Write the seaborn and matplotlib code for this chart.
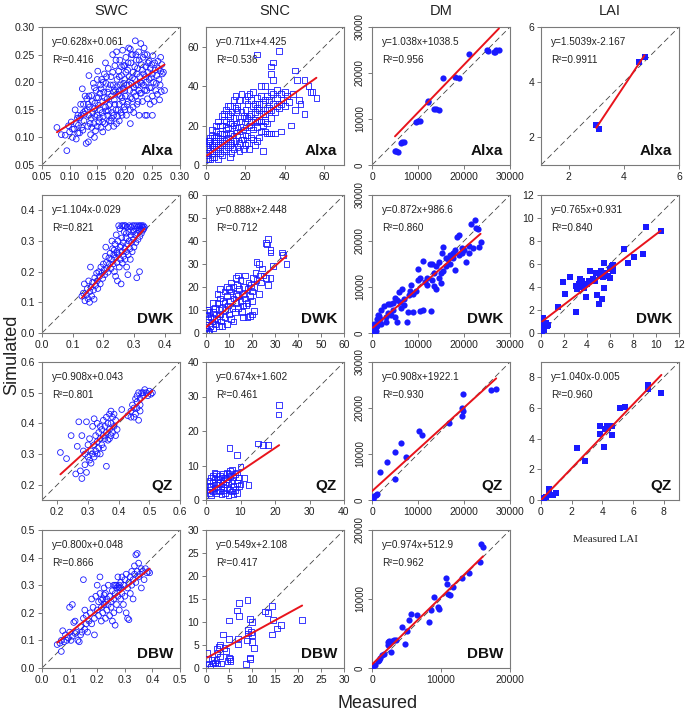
import numpy as np
import seaborn as sns
import matplotlib.pyplot as plt
from matplotlib.ticker import FormatStrFormatter

# ---- data: (measured, simulated) ----
swc_alxa = [(0.077,0.118),(0.085,0.105),(0.092,0.104),(0.095,0.076),(0.098,0.121),(0.100,0.110),(0.103,0.128),
            (0.105,0.100),(0.108,0.115),(0.110,0.150),(0.112,0.097),(0.114,0.135),(0.116,0.122),(0.118,0.108),
            (0.120,0.160),(0.121,0.140),(0.123,0.188),(0.124,0.113),(0.126,0.130),(0.128,0.148),(0.130,0.089),
            (0.131,0.170),(0.133,0.120),(0.134,0.092),(0.135,0.212),(0.136,0.155),(0.138,0.105),(0.139,0.135),
            (0.140,0.176),(0.142,0.145),(0.143,0.198),(0.144,0.125),(0.146,0.162),(0.147,0.112),(0.148,0.185),
            (0.150,0.140),(0.151,0.220),(0.152,0.172),(0.153,0.128),(0.155,0.150),(0.156,0.195),(0.157,0.118),
            (0.158,0.205),(0.160,0.165),(0.161,0.138),(0.162,0.182),(0.163,0.215),(0.164,0.125),(0.165,0.155),
            (0.166,0.198),(0.168,0.170),(0.169,0.140),(0.170,0.225),(0.171,0.188),(0.172,0.130),(0.173,0.160),
            (0.175,0.210),(0.176,0.175),(0.177,0.145),(0.178,0.250),(0.179,0.195),(0.180,0.120),(0.181,0.168),
            (0.182,0.230),(0.183,0.185),(0.184,0.150),(0.185,0.255),(0.186,0.205),(0.187,0.138),(0.188,0.178),
            (0.189,0.220),(0.190,0.160),(0.191,0.240),(0.192,0.195),(0.193,0.145),(0.194,0.212),(0.195,0.172),
            (0.196,0.258),(0.197,0.188),(0.198,0.230),(0.199,0.155),(0.200,0.205),(0.201,0.175),(0.202,0.245),
            (0.203,0.140),(0.204,0.195),(0.205,0.222),(0.206,0.165),(0.207,0.262),(0.208,0.210),(0.209,0.185),
            (0.210,0.150),(0.211,0.235),(0.212,0.198),(0.213,0.170),(0.214,0.250),(0.215,0.218),(0.216,0.145),
            (0.217,0.190),(0.218,0.205),(0.219,0.275),(0.220,0.175),(0.221,0.240),(0.222,0.160),(0.223,0.225),
            (0.224,0.195),(0.225,0.255),(0.226,0.140),(0.227,0.210),(0.228,0.180),(0.229,0.270),(0.230,0.232),
            (0.231,0.198),(0.232,0.165),(0.233,0.245),(0.234,0.215),(0.235,0.262),(0.236,0.185),(0.237,0.140),
            (0.238,0.228),(0.239,0.200),(0.240,0.250),(0.241,0.170),(0.242,0.218),(0.244,0.238),(0.245,0.190),
            (0.246,0.160),(0.248,0.208),(0.249,0.232),(0.250,0.175),(0.251,0.248),(0.252,0.200),(0.253,0.165),
            (0.255,0.222),(0.256,0.185),(0.258,0.212),(0.259,0.178),(0.260,0.238),(0.262,0.205),(0.263,0.168),
            (0.265,0.220),(0.266,0.183),(0.268,0.215),(0.270,0.218),(0.272,0.185),(0.265,0.245),(0.155,0.180),
            (0.145,0.100),(0.160,0.110),(0.175,0.130),(0.185,0.125),(0.135,0.140),(0.125,0.160),(0.115,0.108),
            (0.128,0.175),(0.140,0.118),(0.150,0.205),(0.165,0.235),(0.170,0.118),(0.190,0.130),(0.200,0.150),
            (0.210,0.125),(0.195,0.140),(0.240,0.140),(0.250,0.140),
            (0.105,0.115),(0.112,0.125),(0.118,0.135),(0.122,0.118),(0.127,0.142),(0.132,0.150),(0.134,0.160),
            (0.137,0.125),(0.141,0.165),(0.144,0.152),(0.146,0.138),(0.149,0.172),(0.152,0.158),(0.154,0.135),
            (0.157,0.188),(0.159,0.145),(0.161,0.200),(0.163,0.172),(0.166,0.148),(0.167,0.210),(0.169,0.182),
            (0.171,0.158),(0.174,0.195),(0.176,0.135),(0.178,0.218),(0.180,0.182),(0.182,0.160),(0.184,0.240),
            (0.186,0.192),(0.188,0.150),(0.190,0.210),(0.192,0.175),(0.194,0.228),(0.196,0.165),(0.198,0.198),
            (0.200,0.185),(0.202,0.218),(0.204,0.160),(0.206,0.235),(0.208,0.195),(0.210,0.172),(0.212,0.250),
            (0.214,0.208),(0.216,0.182),(0.218,0.228),(0.220,0.195),(0.222,0.215),(0.224,0.165),(0.226,0.240),
            (0.228,0.200),(0.230,0.180),(0.232,0.222),(0.234,0.195),(0.236,0.250),(0.238,0.210),(0.240,0.185),
            (0.242,0.235),(0.244,0.205),(0.246,0.225),(0.248,0.190),(0.250,0.215),(0.254,0.235),(0.257,0.198),
            (0.261,0.225),(0.264,0.195),(0.267,0.232),(0.145,0.190),(0.135,0.175),(0.125,0.145),(0.115,0.140),
            (0.150,0.120),(0.160,0.128),(0.170,0.148),(0.180,0.140),(0.190,0.185),(0.200,0.230),(0.210,0.260),
            (0.220,0.250),(0.215,0.155),(0.225,0.185)]

snc_alxa = [(0.5,5),(1,8),(1.5,12),(2,3),(2,10),(3,6),(3,15),(4,9),(4,4),(5,12),(5,17),(6,7),(6,14),(7,10),(7,20),
            (8,5),(8,16),(9,12),(9,23),(10,8),(10,18),(11,14),(11,26),(12,10),(12,21),(13,6),(13,16),(14,24),(14,12),
            (15,19),(15,29),(16,9),(16,15),(17,22),(17,33),(18,13),(18,27),(19,18),(19,8),(20,24),(20,15),(21,31),
            (21,11),(22,20),(22,36),(23,26),(23,14),(24,18),(24,30),(25,23),(25,10),(26,34),(26,19),(27,28),(27,14),
            (28,22),(28,40),(29,31),(29,7),(30,26),(30,17),(31,35),(31,21),(32,29),(32,16),(33,37),(33,24),(34,31),
            (35,27),(35,16),(36,34),(36,38),(37,29),(38,36),(38,17),(39,33),(40,30),(40,37),(41,35),(42,32),(43,20),
            (44,36),(45,28),(45,48),(46,43),(47,33),(48,31),(50,26),(50,43),(52,40),(53,37),(54,37),(56,34),(33,16),
            (26,56),(37,58),(34,52),(33,50),(33,46),(34,43),(30,40),(10,28),(12,30),(8,25),(5,20),(15,35),(3,10),
            (1,3),(6,3),(18,36),(20,33),(22,8),(24,37),(28,35),(12,4),(16,28),(20,10),(25,31),(30,33),(14,20),(9,16),
            (7,12),(11,19),(13,27),(17,17),(19,25),(21,24),(23,19),(27,23),(29,20),(31,28),(26,12),(4,14),(2,7),
            (1,6),(2,12),(3,4),(4,11),(5,8),(5,15),(6,10),(7,6),(7,16),(8,11),(8,20),(9,7),(10,13),(10,22),(11,9),
            (12,16),(12,25),(13,11),(13,21),(14,15),(14,8),(15,12),(15,24),(16,19),(16,30),(17,11),(18,22),(19,13),
            (20,19),(20,28),(21,15),(22,25),(23,22),(24,13),(25,27),(26,22),(27,31),(28,17),(29,26),(30,22),(31,16),
            (32,33),(33,28),(34,36),(36,30),(38,31),(3,18),(6,22),(9,26),(11,30),(14,33),(2,14),(0.5,9),(17,7),
            (21,35),(23,33),(26,29)]

dm_alxa = [(5000,3100),(5300,3000),(5600,2800),(6300,4800),(6600,5000),(6900,4900),(9500,9400),(10000,9500),
           (10500,9600),(12100,13600),(12200,14000),(13500,12200),(14000,12100),(14500,12000),(15400,18900),
           (18000,19200),(19000,18900),(21000,24100),(25000,25000),(25200,24800),(26500,24600),(27000,24900),
           (27600,25000),(26800,24500)]

lai_alxa = [(3.0,2.45),(3.1,2.3),(4.55,4.75),(4.75,4.9)]

swc_dwk = [(0.130,0.120),(0.135,0.130),(0.138,0.160),(0.140,0.105),(0.145,0.125),(0.148,0.145),(0.150,0.112),
           (0.152,0.170),(0.155,0.100),(0.156,0.135),(0.158,0.215),(0.160,0.150),(0.162,0.120),(0.165,0.165),
           (0.168,0.140),(0.170,0.110),(0.172,0.180),(0.175,0.155),(0.178,0.195),(0.180,0.170),(0.182,0.145),
           (0.185,0.200),(0.188,0.185),(0.190,0.160),(0.192,0.215),(0.195,0.195),(0.198,0.178),(0.200,0.225),
           (0.202,0.205),(0.205,0.190),(0.207,0.250),(0.208,0.280),(0.210,0.230),(0.212,0.210),(0.215,0.198),
           (0.218,0.245),(0.220,0.225),(0.222,0.260),(0.225,0.210),(0.227,0.240),(0.230,0.275),(0.232,0.225),
           (0.234,0.255),(0.236,0.200),(0.238,0.290),(0.240,0.245),(0.240,0.185),(0.242,0.320),(0.244,0.265),
           (0.245,0.230),(0.246,0.170),(0.248,0.300),(0.250,0.255),(0.252,0.215),(0.254,0.340),(0.255,0.280),
           (0.256,0.240),(0.258,0.160),(0.260,0.310),(0.261,0.265),(0.262,0.228),(0.264,0.350),(0.265,0.295),
           (0.266,0.250),(0.268,0.330),(0.270,0.275),(0.271,0.240),(0.272,0.350),(0.274,0.310),(0.275,0.265),
           (0.276,0.215),(0.278,0.345),(0.279,0.290),(0.280,0.190),(0.281,0.255),(0.283,0.330),(0.284,0.300),
           (0.285,0.350),(0.287,0.275),(0.288,0.240),(0.290,0.320),(0.291,0.345),(0.292,0.295),(0.294,0.265),
           (0.295,0.350),(0.297,0.330),(0.298,0.305),(0.300,0.280),(0.301,0.350),(0.303,0.320),(0.305,0.340),
           (0.306,0.295),(0.308,0.350),(0.309,0.180),(0.310,0.325),(0.312,0.345),(0.313,0.305),(0.315,0.350),
           (0.317,0.335),(0.318,0.200),(0.319,0.315),(0.320,0.350),(0.322,0.340),(0.324,0.325),(0.325,0.350),
           (0.327,0.345),(0.329,0.335),(0.330,0.350),(0.332,0.340),(0.334,0.345),(0.260,0.350),(0.270,0.350),
           (0.250,0.350),(0.228,0.300),(0.235,0.270),(0.258,0.285),(0.245,0.260),(0.275,0.325)]

snc_dwk = [(0,0),(0,2),(0.3,5),(0.5,8),(0.5,10),(0.2,3.5),(1,1),(1,6),(1.5,0.5),(1.5,9),(2,3),(2,7),(2.5,5),(3,2),
           (3,9),(3.5,6),(4,4),(4,11),(4.5,8),(5,6),(5,13),(5.5,3),(5.5,10),(6,8),(6,15),(6.5,5),(7,11),(7,3),
           (7.5,14),(8,7),(8,18),(8.5,10),(9,4),(9,16),(9.5,12),(10,8),(10,19),(10.5,14),(11,6),(11,18),(11.5,11),
           (12,15),(12,20),(12.5,9),(13,13),(13,17),(13.5,21),(14,11),(14,16),(14.5,19),(15,14),(15,23),(15.5,9),
           (16,17),(16,7),(16.5,20),(17,15),(17,25),(17.5,12),(18,19),(18,7),(18.5,22),(19,16),(19,7.5),(19.5,21),
           (20,18),(20,8),(20.5,24),(21,9.5),(21,20),(21.5,26),(22,31),(22,23),(23,30),(23,17),(23.5,25),(24,22),
           (24.5,28),(25,25),(26,24),(26,39),(26.5,38.5),(27,41),(27,21),(28,36),(28,35),(28,24),(29,29),(33,35),
           (33.5,34),(35,30),(1,10),(3,13),(5,17),(8,13),(11,22),(9,20),(13,24),(16,12),(14,25),(6,19),(18,13),
           (20,14),(12,5)]

dm_dwk = [(200,300),(300,800),(500,1200),(800,500),(400,2000),(1000,1500),(600,900),(1200,2200),(1500,3800),
          (1200,4000),(2000,5000),(2500,5900),(1800,3000),(3000,2500),(3500,4300),(3000,3500),(4000,6300),
          (4500,6500),(4200,4000),(5000,7700),(5500,7200),(5800,9000),(6000,6800),(5500,2400),(5000,3500),
          (6500,9500),(7000,6000),(7500,2500),(7800,4500),(8000,8300),(8500,10500),(9000,4500),(9500,9200),
          (10000,11500),(10000,14000),(10500,4800),(11000,15700),(11000,4900),(12000,10500),(12000,12000),
          (12500,15000),(12800,4800),(13000,11500),(13000,15000),(13500,13000),(14000,9600),(14000,14500),
          (14500,15400),(15000,10800),(15200,17500),(15500,18700),(15500,13500),(16000,14600),(16500,16000),
          (17000,15000),(17000,17000),(17500,17300),(18000,13600),(18000,18000),(18500,20900),(19000,17000),
          (19000,21200),(19500,18500),(20000,18000),(20500,15500),(21000,17500),(21000,19000),(21500,23800),
          (22000,18500),(22300,24500),(22500,22800),(23000,22700),(23200,18700),(23600,19700),(14500,12000),
          (16000,16300),(11500,11000),(9000,8500),(7000,7500),(3500,6200),(2000,2000),(1000,3000),(4500,5000),
          (6200,5500),(8200,9200),(10500,12000),(13500,10300),(15000,13000),(17500,16200),(19500,17500)]

lai_dwk = [(0.1,0.2),(0.15,0.5),(0.2,1.0),(0.2,1.2),(0.3,0.8),(0.1,0.05),(0.3,0.3),(0.5,0.6),(0.4,0.9),(0.25,0.4),
           (0.6,0.7),(0.1,0.9),(0.15,1.3),(1.5,2.3),(1.9,4.4),(2.1,3.4),(2.5,4.9),(3.0,1.8),(3.0,4.1),(3.1,3.8),
           (3.3,4.3),(3.4,4.7),(3.5,4.0),(3.7,3.9),(3.9,3.1),(4.0,4.3),(4.3,5.4),(4.5,4.7),(4.7,4.5),(4.8,5.2),
           (4.9,3.3),(5.0,2.5),(5.1,5.0),(5.2,5.4),(5.3,3.0),(5.4,4.9),(5.5,6.1),(5.5,3.9),(5.6,5.2),(5.8,5.0),
           (6.0,4.8),(6.0,5.6),(6.2,5.8),(6.3,5.9),(6.3,5.4),(7.2,7.3),(7.6,6.1),(8.1,6.6),(8.9,6.9),(9.1,9.2),
           (10.4,8.9),(4.2,4.5),(3.6,4.5)]

swc_qz = [(0.21,0.305),(0.23,0.285),(0.245,0.36),(0.26,0.235),(0.265,0.325),(0.27,0.405),(0.275,0.245),(0.28,0.22),
          (0.28,0.36),(0.285,0.31),(0.29,0.30),(0.29,0.265),(0.295,0.405),(0.295,0.24),(0.30,0.29),(0.30,0.33),
          (0.305,0.28),(0.305,0.35),(0.31,0.31),(0.31,0.27),(0.315,0.39),(0.315,0.30),(0.32,0.415),(0.32,0.33),
          (0.32,0.29),(0.325,0.36),(0.325,0.31),(0.33,0.40),(0.33,0.34),(0.33,0.30),(0.335,0.37),(0.335,0.32),
          (0.34,0.39),(0.34,0.35),(0.34,0.30),(0.345,0.38),(0.345,0.33),(0.35,0.41),(0.35,0.36),(0.35,0.32),
          (0.355,0.39),(0.355,0.35),(0.36,0.42),(0.36,0.37),(0.36,0.26),(0.365,0.40),(0.365,0.345),(0.37,0.43),
          (0.37,0.38),(0.37,0.35),(0.375,0.44),(0.375,0.40),(0.375,0.36),(0.38,0.42),(0.38,0.37),(0.385,0.43),
          (0.385,0.39),(0.39,0.41),(0.39,0.36),(0.395,0.38),(0.41,0.445),(0.43,0.425),(0.44,0.44),(0.445,0.46),
          (0.45,0.42),(0.45,0.45),(0.455,0.48),(0.455,0.43),(0.46,0.49),(0.46,0.45),(0.465,0.41),(0.465,0.50),
          (0.47,0.48),(0.47,0.44),(0.475,0.50),(0.48,0.49),(0.485,0.51),(0.49,0.50),(0.495,0.49),(0.50,0.505),
          (0.505,0.495),(0.51,0.50),(0.44,0.42),(0.46,0.47),(0.47,0.46),(0.48,0.50)]

snc_qz = [(1,2),(1,4),(1,5.5),(1.2,3),(1.5,6.5),(1.5,1.5),(2,2.5),(2,5),(2,7),(2.5,3.5),(2.5,6),(3,2),(3,4.5),
          (3,7.5),(3.5,3),(3.5,6),(4,5),(4,2.5),(4,7),(4.5,4),(4.5,6.5),(5,3),(5,5.5),(5,7.5),(5.5,2),(5.5,4.5),
          (6,6),(6,3.5),(6,8),(6.5,1.5),(6.5,5),(7,7),(7,3),(7,8.5),(7.5,5.5),(7.5,2.5),(8,6.5),(8,4),(8.5,7.5),
          (8.5,3),(9,5),(9,2),(9,8),(9.5,6.5),(10,9.7),(10,4.5),(11,6.3),(12.3,4.4),(6.8,15),(9,13),(15,16.4),
          (16.5,16),(18,16),(21,24.8),(21.2,27.5),(1.5,4),(2.5,8),(3.5,5),(4.5,1.8),(5.5,6.5),(6.5,7.5),(8,1.8),
          (9.5,4),(7.5,8.7)]

dm_qz = [(0,100),(200,500),(500,800),(800,1000),(1100,1200),(300,300),(1700,6100),(3300,8200),(5100,10400),
         (6200,12400),(5000,4600),(7300,9300),(10200,15000),(10900,14100),(16800,16800),(19500,18200),
         (19600,20000),(19700,23000),(19800,19300),(25800,24000),(27000,24200)]

lai_qz = [(0.05,0.05),(0.1,0.1),(0.2,0.15),(0.3,0.2),(0.5,0.3),(0.5,0.7),(0.75,0.3),(0.95,0.45),(2.35,3.4),
          (2.9,2.55),(3.85,4.8),(3.85,4.3),(4.1,3.45),(4.2,4.6),(4.3,4.8),(4.4,4.7),(4.5,4.85),(4.6,4.85),
          (4.6,4.25),(5.15,6.0),(5.5,6.05),(7.0,7.5),(7.0,7.25),(7.85,7.0)]

swc_dbw = [(0.055,0.085),(0.065,0.09),(0.07,0.06),(0.07,0.10),(0.075,0.135),(0.08,0.095),(0.085,0.12),(0.09,0.10),
           (0.095,0.11),(0.10,0.13),(0.10,0.22),(0.105,0.10),(0.11,0.115),(0.11,0.23),(0.115,0.165),(0.12,0.17),
           (0.12,0.125),(0.125,0.13),(0.13,0.10),(0.135,0.095),(0.14,0.15),(0.14,0.12),(0.145,0.13),(0.15,0.18),
           (0.15,0.32),(0.155,0.14),(0.155,0.21),(0.16,0.16),(0.16,0.19),(0.165,0.13),(0.17,0.17),(0.175,0.20),
           (0.18,0.16),(0.18,0.25),(0.185,0.22),(0.19,0.12),(0.19,0.18),(0.195,0.26),(0.20,0.21),(0.20,0.30),
           (0.205,0.19),(0.205,0.24),(0.21,0.27),(0.21,0.33),(0.215,0.17),(0.215,0.22),(0.22,0.25),(0.22,0.20),
           (0.225,0.29),(0.225,0.23),(0.23,0.18),(0.23,0.27),(0.235,0.21),(0.235,0.25),(0.24,0.23),(0.24,0.30),
           (0.245,0.19),(0.245,0.26),(0.25,0.24),(0.25,0.22),(0.255,0.28),(0.255,0.17),(0.26,0.30),(0.26,0.25),
           (0.26,0.20),(0.265,0.155),(0.265,0.27),(0.27,0.30),(0.27,0.23),(0.275,0.33),(0.275,0.26),(0.28,0.21),
           (0.28,0.29),(0.285,0.25),(0.285,0.31),(0.29,0.27),(0.29,0.33),(0.295,0.23),(0.295,0.30),(0.30,0.32),
           (0.30,0.26),(0.305,0.20),(0.305,0.34),(0.31,0.29),(0.31,0.18),(0.315,0.175),(0.315,0.31),(0.32,0.33),
           (0.32,0.27),(0.325,0.35),(0.325,0.30),(0.33,0.32),(0.33,0.25),(0.335,0.34),(0.335,0.37),(0.34,0.41),
           (0.34,0.31),(0.345,0.415),(0.345,0.35),(0.35,0.38),(0.35,0.33),(0.355,0.34),(0.36,0.36),(0.36,0.29),
           (0.365,0.35),(0.37,0.32),(0.375,0.36),(0.38,0.345),(0.385,0.35),(0.39,0.345),(0.265,0.30),(0.27,0.29),
           (0.275,0.295),(0.28,0.30),(0.285,0.29),(0.225,0.265),(0.215,0.245),(0.23,0.24)]

snc_dbw = [(0.3,3.2),(0.4,2.0),(0.6,1.0),(1.0,0.3),(1.3,1.8),(1.5,1.0),(2.0,1.2),(2.3,1.8),(2.5,3.2),(2.4,4.2),
           (2.8,4.5),(2.5,1.0),(3.0,5.0),(3.0,2.5),(3.2,1.0),(3.7,7.3),(4.0,4.3),(4.3,3.7),(4.7,1.5),(5.0,6.3),
           (5.0,10.3),(5.2,2.0),(5.3,1.6),(5.0,2.3),(6.8,12.5),(7.1,14.1),(7.2,11.3),(7.0,6.4),(7.0,5.1),(8.7,0.8),
           (8.9,6.0),(9.0,14.8),(9.1,8.3),(9.2,7.5),(9.5,10.6),(9.6,2.3),(9.6,1.9),(9.8,7.9),(10.0,10.0),(10.0,7.2),
           (10.0,5.6),(10.4,4.3),(12.8,12.3),(13.5,12.0),(14.3,7.3),(14.4,13.4),(14.6,10.4),(15.5,8.6),(16.3,9.3),
           (20.9,10.4)]

dm_dbw = [(0,100),(200,300),(500,500),(800,1000),(1100,1500),(1400,1900),(1700,2000),(2300,3400),(2300,3700),
          (2400,3900),(2700,2300),(2900,3900),(3200,4100),(3500,4000),(4400,6000),(4800,3500),(5100,5400),
          (5300,7000),(5600,7800),(6500,7700),(8300,6600),(8500,8400),(9000,10300),(9500,8800),(9700,8600),
          (10700,13000),(10900,12200),(11000,10700),(11300,10600),(11800,11800),(13000,13000),(14000,13800),
          (15600,15400),(15800,18000),(16100,17600),(1000,1200),(2500,3500)]

variables = ["SWC", "SNC", "DM", "LAI"]
sites = ["Alxa", "DWK", "QZ", "DBW"]

# regression equations printed on each panel, row by row
slopes = [[0.628, 0.711, 1.038, 1.5039], [1.104, 0.888, 0.872, 0.765],
          [0.908, 0.674, 0.908, 1.040], [0.800, 0.549, 0.974, None]]
intercepts = [[0.061, 4.425, 1038.5, -2.167], [-0.029, 2.448, 986.6, 0.931],
              [0.043, 1.602, 1922.1, -0.005], [0.048, 2.108, 512.9, None]]
eq_labels = [["y=0.628x+0.061", "y=0.711x+4.425", "y=1.038x+1038.5", "y=1.5039x-2.167"],
             ["y=1.104x-0.029", "y=0.888x+2.448", "y=0.872x+986.6", "y=0.765x+0.931"],
             ["y=0.908x+0.043", "y=0.674x+1.602", "y=0.908x+1922.1", "y=1.040x-0.005"],
             ["y=0.800x+0.048", "y=0.549x+2.108", "y=0.974x+512.9", None]]
r2_labels = [["0.416", "0.536", "0.956", "0.9911"], ["0.821", "0.712", "0.860", "0.840"],
             ["0.801", "0.461", "0.930", "0.960"], ["0.866", "0.417", "0.962", None]]

panel_data = [[swc_alxa, snc_alxa, dm_alxa, lai_alxa], [swc_dwk, snc_dwk, dm_dwk, lai_dwk],
              [swc_qz, snc_qz, dm_qz, lai_qz], [swc_dbw, snc_dbw, dm_dbw, None]]

# axis range and ticks per panel
limits = [[(0.05, 0.30), (0, 70), (0, 30000), (1, 6)],
          [(0, 0.45), (0, 60), (0, 30000), (0, 12)],
          [(0.15, 0.6), (0, 40), (0, 30000), (0, 9)],
          [(0, 0.5), (0, 30), (0, 20000), None]]
ticks = [[[0.05, 0.10, 0.15, 0.20, 0.25, 0.30], [0, 20, 40, 60], [0, 10000, 20000, 30000], [2, 4, 6]],
         [[0.0, 0.1, 0.2, 0.3, 0.4], [0, 10, 20, 30, 40, 50, 60], [0, 10000, 20000, 30000], [0, 2, 4, 6, 8, 10, 12]],
         [[0.2, 0.3, 0.4, 0.5, 0.6], [0, 10, 20, 30, 40], [0, 10000, 20000, 30000], [0, 2, 4, 6, 8]],
         [[0.0, 0.1, 0.2, 0.3, 0.4, 0.5], [0, 5, 10, 15, 20, 25, 30], [0, 10000, 20000], None]]
tick_fmt = [["%.2f", "%d", "%d", "%d"], ["%.1f", "%d", "%d", "%d"],
            ["%.1f", "%d", "%d", "%d"], ["%.1f", "%d", "%d", None]]

markers = {"SWC": ("o", False), "SNC": ("s", False), "DM": ("o", True), "LAI": ("s", True)}

# ---- drawing ----
sns.set_theme(style="ticks")
plt.rcParams["font.family"] = ["Liberation Sans", "DejaVu Sans"]
plt.rcParams["axes.edgecolor"] = "#7a7a7a"
plt.rcParams["axes.linewidth"] = 0.8

W, H = 685, 714
fig = plt.figure(figsize=(W / 100, H / 100), dpi=100)
col_left = [42, 206, 372, 541]
row_top = [27, 195, 362, 530]
box = 138
blue = "#1a1aff"

for r in range(4):
    for c in range(4):
        pts = panel_data[r][c]
        if pts is None:
            continue
        var = variables[c]
        ax = fig.add_axes([col_left[c] / W, 1 - (row_top[r] + box) / H, box / W, box / H])
        x = np.array([p[0] for p in pts])
        y = np.array([p[1] for p in pts])

        m, filled = markers[var]
        if filled:
            sns.scatterplot(x=x, y=y, ax=ax, marker=m, s=20, color=blue,
                            edgecolor=blue, linewidth=0, legend=False, zorder=3)
        else:
            sns.scatterplot(x=x, y=y, ax=ax, marker=m, s=17, facecolor="none",
                            edgecolor=blue, linewidth=0.6, legend=False, zorder=3)

        lo, hi = limits[r][c]
        ax.plot([lo, hi], [lo, hi], ls=(0, (7, 4)), color="#444444", lw=0.6, zorder=2)

        xs = np.array([x.min(), x.max()])
        sns.lineplot(x=xs, y=slopes[r][c] * xs + intercepts[r][c], ax=ax,
                     color="#e8141c", lw=1.4, zorder=4)

        ax.set_xlim(lo, hi)
        ax.set_ylim(lo, hi)
        ax.set_xticks(ticks[r][c])
        ax.set_yticks(ticks[r][c])
        ax.xaxis.set_major_formatter(FormatStrFormatter(tick_fmt[r][c]))
        ax.yaxis.set_major_formatter(FormatStrFormatter(tick_fmt[r][c]))
        ax.tick_params(direction="out", length=3, width=0.7, color="#7a7a7a",
                       labelsize=7.5, labelcolor="#222222", pad=2)
        if var == "DM":
            ax.tick_params(axis="y", labelrotation=90, labelsize=7, pad=2)
            for lbl in ax.get_yticklabels():
                lbl.set_va("center")
        ax.set_xlabel("")
        ax.set_ylabel("")

        ax.text(0.07, 0.93, eq_labels[r][c], transform=ax.transAxes, fontsize=7.2,
                va="top", ha="left", color="#222222")
        ax.text(0.07, 0.80, "R\u00b2=" + r2_labels[r][c], transform=ax.transAxes, fontsize=7.2,
                va="top", ha="left", color="#222222")
        ax.text(0.95, 0.05, sites[r], transform=ax.transAxes, fontsize=11,
                fontweight="bold", va="bottom", ha="right", color="#111111")

for c, name in enumerate(variables):
    fig.text((col_left[c] + box / 2) / W, 1 - 11 / H, name, ha="center", va="center",
             fontsize=10.5, color="#222222")

fig.text(12 / W, 1 - 355 / H, "Simulated", rotation=90, ha="center", va="center",
         fontsize=13, color="#222222")
fig.text(378 / W, 1 - 703 / H, "Measured", ha="center", va="center",
         fontsize=13, color="#222222")
fig.text(605 / W, 1 - 540 / H, "Measured LAI", ha="center", va="center",
         fontsize=8, family=["Liberation Serif", "DejaVu Serif"], color="#222222")

fig.savefig("out.png", dpi=100)
